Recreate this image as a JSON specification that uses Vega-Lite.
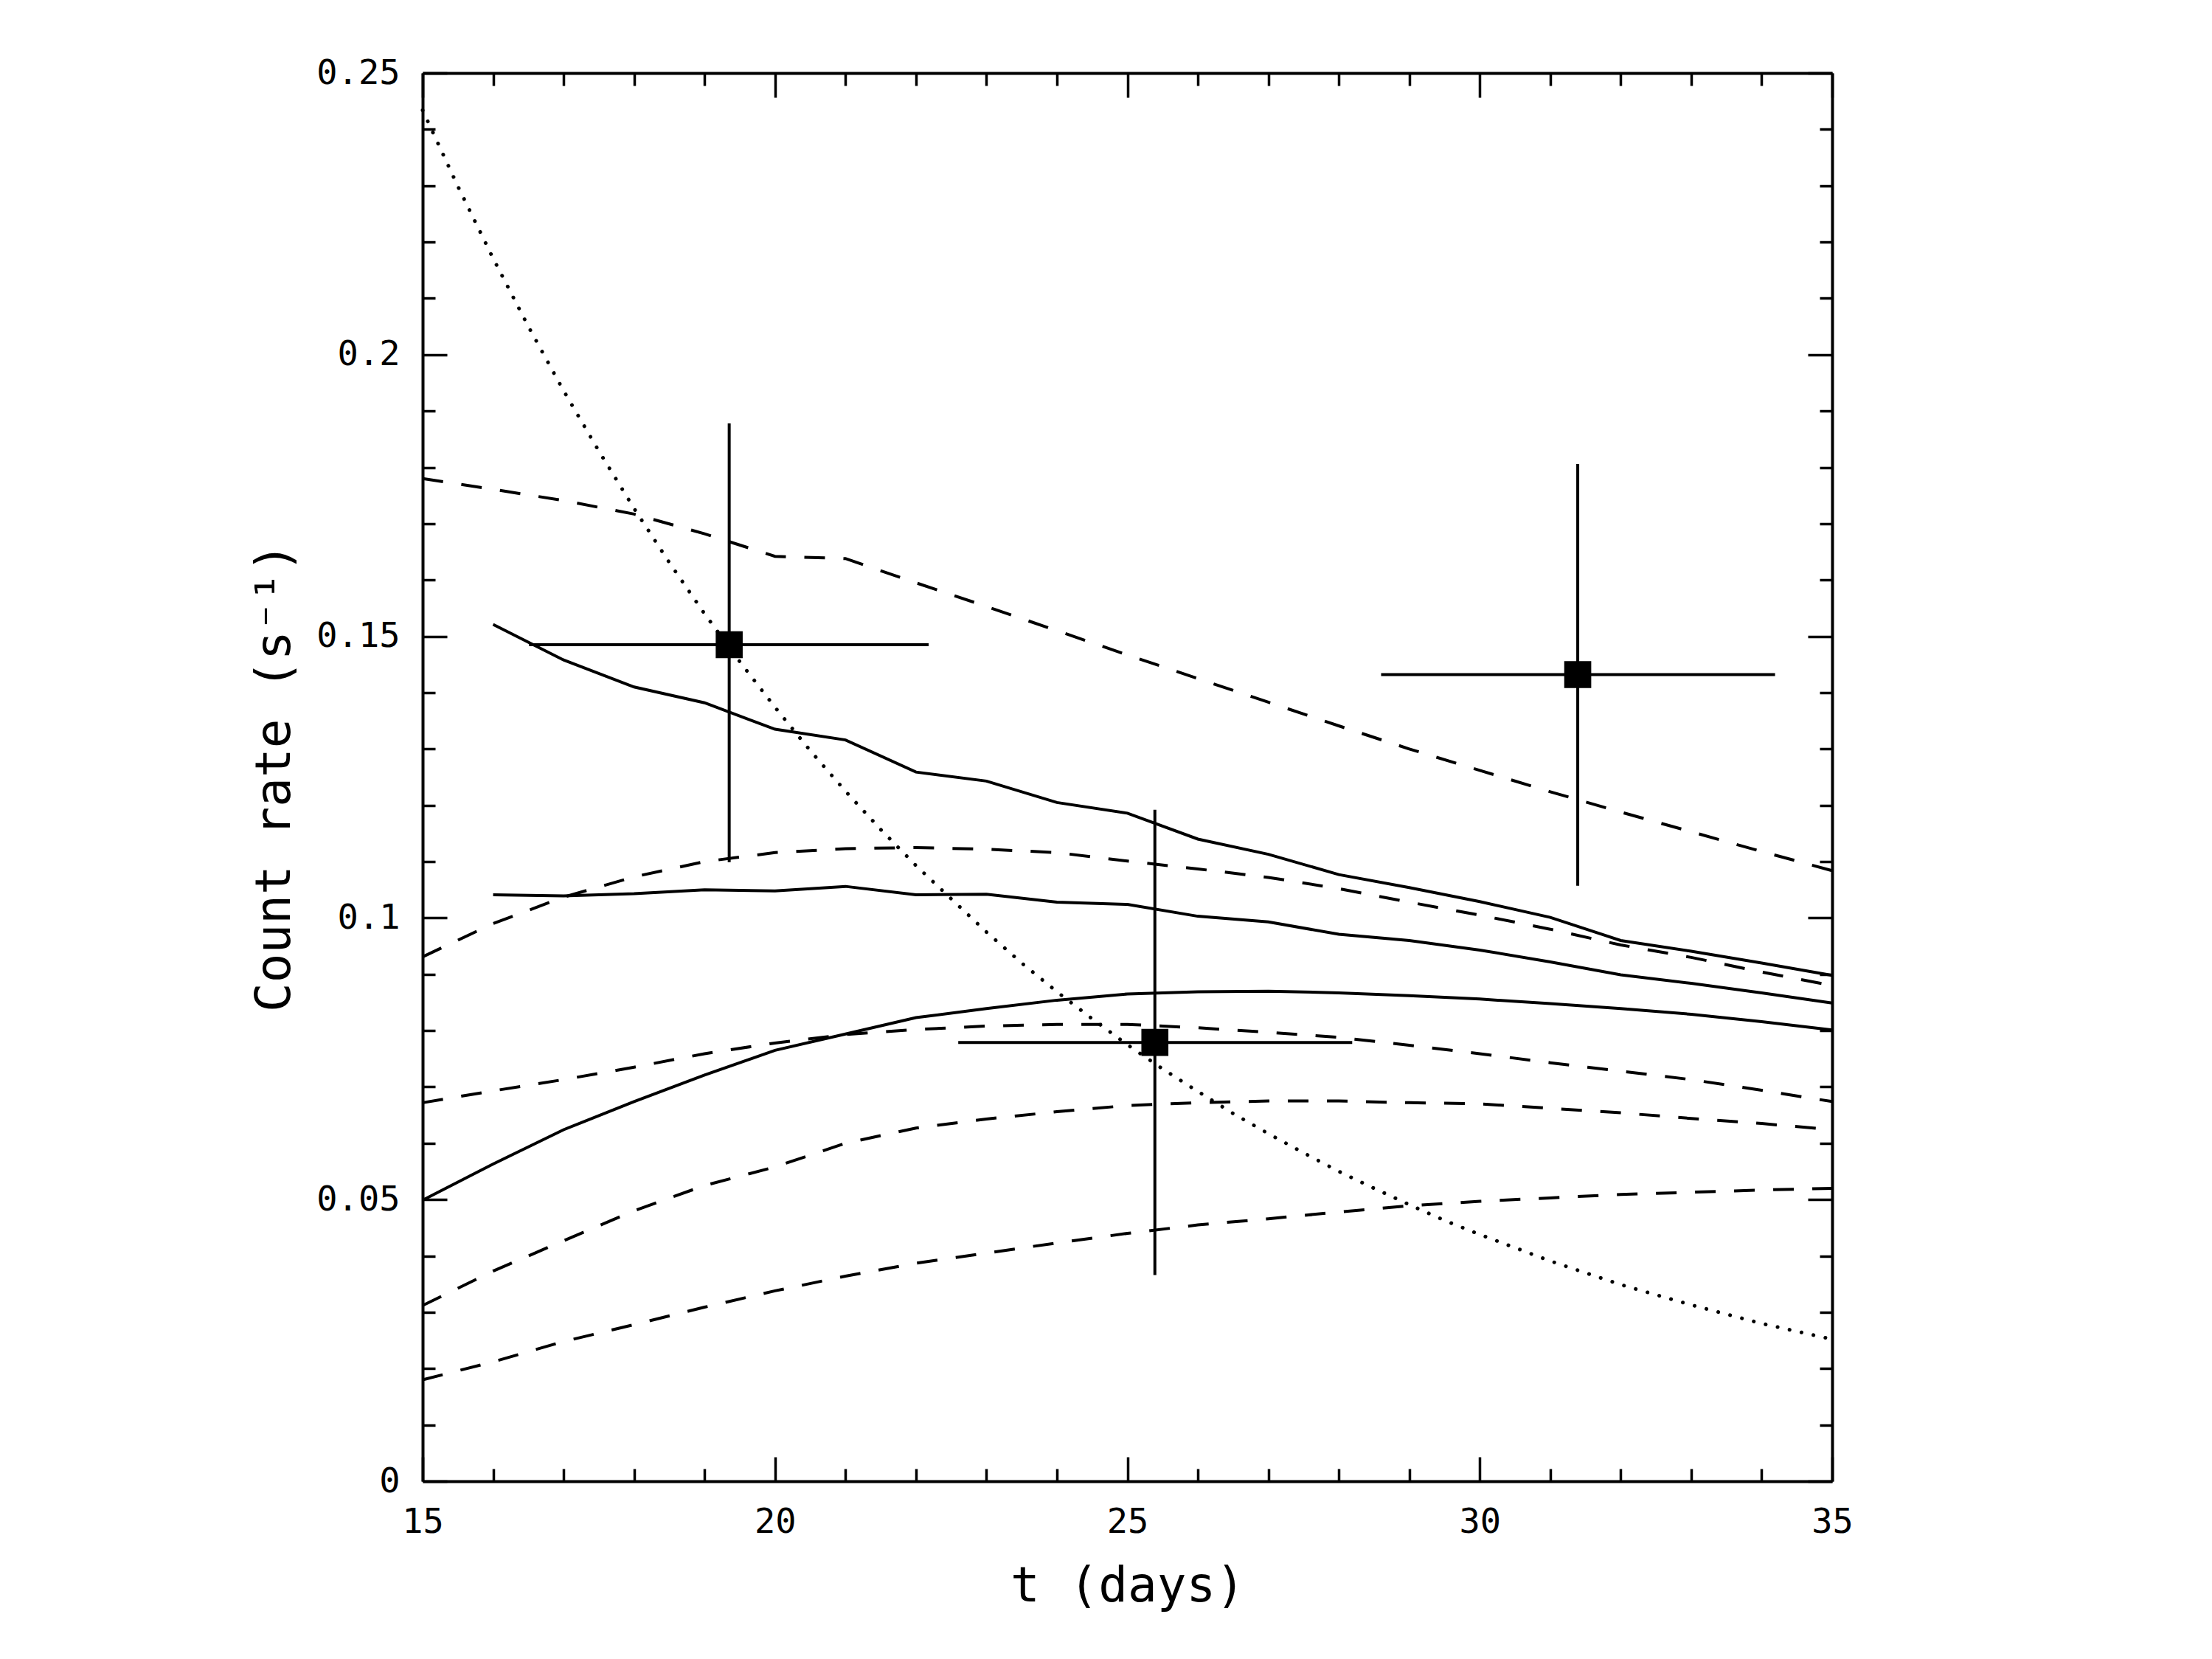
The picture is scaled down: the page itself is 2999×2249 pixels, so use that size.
{
  "$schema": "https://vega.github.io/schema/vega-lite/v6.json",
  "description": "Count rate vs time: model curves (solid, dashed, dotted) with three measured points",
  "width": 1911,
  "height": 1909,
  "autosize": "none",
  "padding": {"left": 573, "top": 99, "right": 515, "bottom": 241},
  "background": "white",
  "config": {
    "view": {"stroke": null},
    "axis": {
      "grid": false,
      "domainColor": "black",
      "domainWidth": 4,
      "tickColor": "black",
      "tickWidth": 3.5,
      "labelFont": "DejaVu Sans Mono",
      "labelFontSize": 47,
      "labelColor": "black",
      "titleFont": "DejaVu Sans Mono",
      "titleFontSize": 66,
      "titleFontWeight": "normal",
      "titleColor": "black",
      "labelFlush": false,
      "labelOverlap": false
    }
  },
  "datasets": {
    "curves": [
      {"model": "d1", "style": "dashed", "t": 15, "rate": 0.1780},
      {"model": "d1", "style": "dashed", "t": 16, "rate": 0.1761},
      {"model": "d1", "style": "dashed", "t": 17, "rate": 0.1741},
      {"model": "d1", "style": "dashed", "t": 18, "rate": 0.1717},
      {"model": "d1", "style": "dashed", "t": 19, "rate": 0.1682},
      {"model": "d1", "style": "dashed", "t": 20, "rate": 0.1642},
      {"model": "d1", "style": "dashed", "t": 21, "rate": 0.1638},
      {"model": "d1", "style": "dashed", "t": 22, "rate": 0.1595},
      {"model": "d1", "style": "dashed", "t": 23, "rate": 0.1553},
      {"model": "d1", "style": "dashed", "t": 24, "rate": 0.1510},
      {"model": "d1", "style": "dashed", "t": 25, "rate": 0.1467},
      {"model": "d1", "style": "dashed", "t": 26, "rate": 0.1425},
      {"model": "d1", "style": "dashed", "t": 27, "rate": 0.1383},
      {"model": "d1", "style": "dashed", "t": 28, "rate": 0.1341},
      {"model": "d1", "style": "dashed", "t": 29, "rate": 0.1300},
      {"model": "d1", "style": "dashed", "t": 30, "rate": 0.1262},
      {"model": "d1", "style": "dashed", "t": 31, "rate": 0.1224},
      {"model": "d1", "style": "dashed", "t": 32, "rate": 0.1188},
      {"model": "d1", "style": "dashed", "t": 33, "rate": 0.1153},
      {"model": "d1", "style": "dashed", "t": 34, "rate": 0.1118},
      {"model": "d1", "style": "dashed", "t": 35, "rate": 0.1084},

      {"model": "d2", "style": "dashed", "t": 15, "rate": 0.0931},
      {"model": "d2", "style": "dashed", "t": 16, "rate": 0.0990},
      {"model": "d2", "style": "dashed", "t": 17, "rate": 0.1037},
      {"model": "d2", "style": "dashed", "t": 18, "rate": 0.1073},
      {"model": "d2", "style": "dashed", "t": 19, "rate": 0.1100},
      {"model": "d2", "style": "dashed", "t": 20, "rate": 0.1116},
      {"model": "d2", "style": "dashed", "t": 21, "rate": 0.1123},
      {"model": "d2", "style": "dashed", "t": 22, "rate": 0.1125},
      {"model": "d2", "style": "dashed", "t": 23, "rate": 0.1122},
      {"model": "d2", "style": "dashed", "t": 24, "rate": 0.1116},
      {"model": "d2", "style": "dashed", "t": 25, "rate": 0.1101},
      {"model": "d2", "style": "dashed", "t": 26, "rate": 0.1087},
      {"model": "d2", "style": "dashed", "t": 27, "rate": 0.1072},
      {"model": "d2", "style": "dashed", "t": 28, "rate": 0.1052},
      {"model": "d2", "style": "dashed", "t": 29, "rate": 0.1028},
      {"model": "d2", "style": "dashed", "t": 30, "rate": 0.1005},
      {"model": "d2", "style": "dashed", "t": 31, "rate": 0.0980},
      {"model": "d2", "style": "dashed", "t": 32, "rate": 0.0952},
      {"model": "d2", "style": "dashed", "t": 33, "rate": 0.0930},
      {"model": "d2", "style": "dashed", "t": 34, "rate": 0.0904},
      {"model": "d2", "style": "dashed", "t": 35, "rate": 0.0880},

      {"model": "d3", "style": "dashed", "t": 15, "rate": 0.0672},
      {"model": "d3", "style": "dashed", "t": 16, "rate": 0.0693},
      {"model": "d3", "style": "dashed", "t": 17, "rate": 0.0713},
      {"model": "d3", "style": "dashed", "t": 18, "rate": 0.0735},
      {"model": "d3", "style": "dashed", "t": 19, "rate": 0.0759},
      {"model": "d3", "style": "dashed", "t": 20, "rate": 0.0778},
      {"model": "d3", "style": "dashed", "t": 21, "rate": 0.0793},
      {"model": "d3", "style": "dashed", "t": 22, "rate": 0.0802},
      {"model": "d3", "style": "dashed", "t": 23, "rate": 0.0808},
      {"model": "d3", "style": "dashed", "t": 24, "rate": 0.0811},
      {"model": "d3", "style": "dashed", "t": 25, "rate": 0.0811},
      {"model": "d3", "style": "dashed", "t": 26, "rate": 0.0805},
      {"model": "d3", "style": "dashed", "t": 27, "rate": 0.0797},
      {"model": "d3", "style": "dashed", "t": 28, "rate": 0.0788},
      {"model": "d3", "style": "dashed", "t": 29, "rate": 0.0774},
      {"model": "d3", "style": "dashed", "t": 30, "rate": 0.0759},
      {"model": "d3", "style": "dashed", "t": 31, "rate": 0.0743},
      {"model": "d3", "style": "dashed", "t": 32, "rate": 0.0728},
      {"model": "d3", "style": "dashed", "t": 33, "rate": 0.0713},
      {"model": "d3", "style": "dashed", "t": 34, "rate": 0.0694},
      {"model": "d3", "style": "dashed", "t": 35, "rate": 0.0674},

      {"model": "d4", "style": "dashed", "t": 15, "rate": 0.0312},
      {"model": "d4", "style": "dashed", "t": 16, "rate": 0.0373},
      {"model": "d4", "style": "dashed", "t": 17, "rate": 0.0427},
      {"model": "d4", "style": "dashed", "t": 18, "rate": 0.0480},
      {"model": "d4", "style": "dashed", "t": 19, "rate": 0.0525},
      {"model": "d4", "style": "dashed", "t": 20, "rate": 0.0558},
      {"model": "d4", "style": "dashed", "t": 21, "rate": 0.0600},
      {"model": "d4", "style": "dashed", "t": 22, "rate": 0.0627},
      {"model": "d4", "style": "dashed", "t": 23, "rate": 0.0643},
      {"model": "d4", "style": "dashed", "t": 24, "rate": 0.0656},
      {"model": "d4", "style": "dashed", "t": 25, "rate": 0.0667},
      {"model": "d4", "style": "dashed", "t": 26, "rate": 0.0672},
      {"model": "d4", "style": "dashed", "t": 27, "rate": 0.0675},
      {"model": "d4", "style": "dashed", "t": 28, "rate": 0.0675},
      {"model": "d4", "style": "dashed", "t": 29, "rate": 0.0672},
      {"model": "d4", "style": "dashed", "t": 30, "rate": 0.0670},
      {"model": "d4", "style": "dashed", "t": 31, "rate": 0.0662},
      {"model": "d4", "style": "dashed", "t": 32, "rate": 0.0654},
      {"model": "d4", "style": "dashed", "t": 33, "rate": 0.0644},
      {"model": "d4", "style": "dashed", "t": 34, "rate": 0.0635},
      {"model": "d4", "style": "dashed", "t": 35, "rate": 0.0624},

      {"model": "d5", "style": "dashed", "t": 15, "rate": 0.0180},
      {"model": "d5", "style": "dashed", "t": 16, "rate": 0.0212},
      {"model": "d5", "style": "dashed", "t": 17, "rate": 0.0248},
      {"model": "d5", "style": "dashed", "t": 18, "rate": 0.0278},
      {"model": "d5", "style": "dashed", "t": 19, "rate": 0.0309},
      {"model": "d5", "style": "dashed", "t": 20, "rate": 0.0338},
      {"model": "d5", "style": "dashed", "t": 21, "rate": 0.0364},
      {"model": "d5", "style": "dashed", "t": 22, "rate": 0.0387},
      {"model": "d5", "style": "dashed", "t": 23, "rate": 0.0405},
      {"model": "d5", "style": "dashed", "t": 24, "rate": 0.0423},
      {"model": "d5", "style": "dashed", "t": 25, "rate": 0.0440},
      {"model": "d5", "style": "dashed", "t": 26, "rate": 0.0455},
      {"model": "d5", "style": "dashed", "t": 27, "rate": 0.0466},
      {"model": "d5", "style": "dashed", "t": 28, "rate": 0.0478},
      {"model": "d5", "style": "dashed", "t": 29, "rate": 0.0489},
      {"model": "d5", "style": "dashed", "t": 30, "rate": 0.0497},
      {"model": "d5", "style": "dashed", "t": 31, "rate": 0.0503},
      {"model": "d5", "style": "dashed", "t": 32, "rate": 0.0509},
      {"model": "d5", "style": "dashed", "t": 33, "rate": 0.0513},
      {"model": "d5", "style": "dashed", "t": 34, "rate": 0.0517},
      {"model": "d5", "style": "dashed", "t": 35, "rate": 0.0520},

      {"model": "s1", "style": "solid", "t": 16, "rate": 0.1521},
      {"model": "s1", "style": "solid", "t": 17, "rate": 0.1458},
      {"model": "s1", "style": "solid", "t": 18, "rate": 0.1410},
      {"model": "s1", "style": "solid", "t": 19, "rate": 0.1382},
      {"model": "s1", "style": "solid", "t": 20, "rate": 0.1335},
      {"model": "s1", "style": "solid", "t": 21, "rate": 0.1316},
      {"model": "s1", "style": "solid", "t": 22, "rate": 0.1259},
      {"model": "s1", "style": "solid", "t": 23, "rate": 0.1243},
      {"model": "s1", "style": "solid", "t": 24, "rate": 0.1205},
      {"model": "s1", "style": "solid", "t": 25, "rate": 0.1186},
      {"model": "s1", "style": "solid", "t": 26, "rate": 0.1140},
      {"model": "s1", "style": "solid", "t": 27, "rate": 0.1113},
      {"model": "s1", "style": "solid", "t": 28, "rate": 0.1077},
      {"model": "s1", "style": "solid", "t": 29, "rate": 0.1054},
      {"model": "s1", "style": "solid", "t": 30, "rate": 0.1029},
      {"model": "s1", "style": "solid", "t": 31, "rate": 0.1001},
      {"model": "s1", "style": "solid", "t": 32, "rate": 0.0960},
      {"model": "s1", "style": "solid", "t": 33, "rate": 0.0941},
      {"model": "s1", "style": "solid", "t": 34, "rate": 0.0920},
      {"model": "s1", "style": "solid", "t": 35, "rate": 0.0898},

      {"model": "s2", "style": "solid", "t": 16, "rate": 0.1041},
      {"model": "s2", "style": "solid", "t": 17, "rate": 0.1039},
      {"model": "s2", "style": "solid", "t": 18, "rate": 0.1043},
      {"model": "s2", "style": "solid", "t": 19, "rate": 0.1050},
      {"model": "s2", "style": "solid", "t": 20, "rate": 0.1048},
      {"model": "s2", "style": "solid", "t": 21, "rate": 0.1056},
      {"model": "s2", "style": "solid", "t": 22, "rate": 0.1041},
      {"model": "s2", "style": "solid", "t": 23, "rate": 0.1042},
      {"model": "s2", "style": "solid", "t": 24, "rate": 0.1028},
      {"model": "s2", "style": "solid", "t": 25, "rate": 0.1024},
      {"model": "s2", "style": "solid", "t": 26, "rate": 0.1003},
      {"model": "s2", "style": "solid", "t": 27, "rate": 0.0993},
      {"model": "s2", "style": "solid", "t": 28, "rate": 0.0971},
      {"model": "s2", "style": "solid", "t": 29, "rate": 0.0960},
      {"model": "s2", "style": "solid", "t": 30, "rate": 0.0943},
      {"model": "s2", "style": "solid", "t": 31, "rate": 0.0922},
      {"model": "s2", "style": "solid", "t": 32, "rate": 0.0899},
      {"model": "s2", "style": "solid", "t": 33, "rate": 0.0884},
      {"model": "s2", "style": "solid", "t": 34, "rate": 0.0867},
      {"model": "s2", "style": "solid", "t": 35, "rate": 0.0849},

      {"model": "s3", "style": "solid", "t": 15, "rate": 0.0499},
      {"model": "s3", "style": "solid", "t": 16, "rate": 0.0563},
      {"model": "s3", "style": "solid", "t": 17, "rate": 0.0624},
      {"model": "s3", "style": "solid", "t": 18, "rate": 0.0674},
      {"model": "s3", "style": "solid", "t": 19, "rate": 0.0721},
      {"model": "s3", "style": "solid", "t": 20, "rate": 0.0765},
      {"model": "s3", "style": "solid", "t": 21, "rate": 0.0794},
      {"model": "s3", "style": "solid", "t": 22, "rate": 0.0823},
      {"model": "s3", "style": "solid", "t": 23, "rate": 0.0839},
      {"model": "s3", "style": "solid", "t": 24, "rate": 0.0854},
      {"model": "s3", "style": "solid", "t": 25, "rate": 0.0865},
      {"model": "s3", "style": "solid", "t": 26, "rate": 0.0869},
      {"model": "s3", "style": "solid", "t": 27, "rate": 0.0870},
      {"model": "s3", "style": "solid", "t": 28, "rate": 0.0867},
      {"model": "s3", "style": "solid", "t": 29, "rate": 0.0862},
      {"model": "s3", "style": "solid", "t": 30, "rate": 0.0856},
      {"model": "s3", "style": "solid", "t": 31, "rate": 0.0848},
      {"model": "s3", "style": "solid", "t": 32, "rate": 0.0839},
      {"model": "s3", "style": "solid", "t": 33, "rate": 0.0829},
      {"model": "s3", "style": "solid", "t": 34, "rate": 0.0816},
      {"model": "s3", "style": "solid", "t": 35, "rate": 0.0801},

      {"model": "decay", "style": "dotted", "t": 15, "rate": 0.2434},
      {"model": "decay", "style": "dotted", "t": 15.5, "rate": 0.2299},
      {"model": "decay", "style": "dotted", "t": 16, "rate": 0.2171},
      {"model": "decay", "style": "dotted", "t": 16.5, "rate": 0.2050},
      {"model": "decay", "style": "dotted", "t": 17, "rate": 0.1936},
      {"model": "decay", "style": "dotted", "t": 17.5, "rate": 0.1829},
      {"model": "decay", "style": "dotted", "t": 18, "rate": 0.1727},
      {"model": "decay", "style": "dotted", "t": 18.5, "rate": 0.1631},
      {"model": "decay", "style": "dotted", "t": 19, "rate": 0.1540},
      {"model": "decay", "style": "dotted", "t": 19.5, "rate": 0.1455},
      {"model": "decay", "style": "dotted", "t": 20, "rate": 0.1374},
      {"model": "decay", "style": "dotted", "t": 20.5, "rate": 0.1297},
      {"model": "decay", "style": "dotted", "t": 21, "rate": 0.1225},
      {"model": "decay", "style": "dotted", "t": 21.5, "rate": 0.1157},
      {"model": "decay", "style": "dotted", "t": 22, "rate": 0.1093},
      {"model": "decay", "style": "dotted", "t": 22.5, "rate": 0.1034},
      {"model": "decay", "style": "dotted", "t": 23, "rate": 0.0975},
      {"model": "decay", "style": "dotted", "t": 23.5, "rate": 0.0920},
      {"model": "decay", "style": "dotted", "t": 24, "rate": 0.0869},
      {"model": "decay", "style": "dotted", "t": 24.5, "rate": 0.0821},
      {"model": "decay", "style": "dotted", "t": 25, "rate": 0.0775},
      {"model": "decay", "style": "dotted", "t": 25.5, "rate": 0.0732},
      {"model": "decay", "style": "dotted", "t": 26, "rate": 0.0692},
      {"model": "decay", "style": "dotted", "t": 26.5, "rate": 0.0653},
      {"model": "decay", "style": "dotted", "t": 27, "rate": 0.0617},
      {"model": "decay", "style": "dotted", "t": 27.5, "rate": 0.0583},
      {"model": "decay", "style": "dotted", "t": 28, "rate": 0.0550},
      {"model": "decay", "style": "dotted", "t": 28.5, "rate": 0.0520},
      {"model": "decay", "style": "dotted", "t": 29, "rate": 0.0491},
      {"model": "decay", "style": "dotted", "t": 29.5, "rate": 0.0463},
      {"model": "decay", "style": "dotted", "t": 30, "rate": 0.0438},
      {"model": "decay", "style": "dotted", "t": 31, "rate": 0.0391},
      {"model": "decay", "style": "dotted", "t": 32, "rate": 0.0349},
      {"model": "decay", "style": "dotted", "t": 33, "rate": 0.0313},
      {"model": "decay", "style": "dotted", "t": 34, "rate": 0.0280},
      {"model": "decay", "style": "dotted", "t": 35, "rate": 0.0252}
    ],
    "points": [
      {"t": 19.35, "t_lo": 16.51, "t_hi": 22.18, "rate": 0.1485, "rate_lo": 0.1099, "rate_hi": 0.1878},
      {"t": 25.39, "t_lo": 22.60, "t_hi": 28.19, "rate": 0.0779, "rate_lo": 0.0366, "rate_hi": 0.1192},
      {"t": 31.39, "t_lo": 28.60, "t_hi": 34.19, "rate": 0.1432, "rate_lo": 0.1057, "rate_hi": 0.1806}
    ]
  },
  "resolve": {"axis": {"x": "independent", "y": "independent"}},
  "layer": [
    {
      "description": "dashed models, carries the labelled bottom and left axes",
      "data": {"name": "curves"},
      "transform": [{"filter": "datum.style === 'dashed'"}],
      "mark": {"type": "line", "color": "black", "strokeWidth": 4, "strokeDash": [28, 25]},
      "encoding": {
        "x": {
          "field": "t", "type": "quantitative",
          "scale": {"domain": [15, 35], "nice": false, "zero": false},
          "axis": {"orient": "bottom", "values": [15, 20, 25, 30, 35], "tickSize": -33, "labelPadding": 65, "format": "~g", "title": "t (days)", "titlePadding": 32}
        },
        "y": {
          "field": "rate", "type": "quantitative",
          "scale": {"domain": [0, 0.25], "nice": false, "zero": false},
          "axis": {"orient": "left", "values": [0, 0.05, 0.1, 0.15, 0.2, 0.25], "tickSize": -33, "labelPadding": 64, "format": "~g", "title": "Count rate (s⁻¹)", "titlePadding": 22}
        },
        "detail": {"field": "model"}
      }
    },
    {
      "description": "solid models, minor ticks bottom and left",
      "data": {"name": "curves"},
      "transform": [{"filter": "datum.style === 'solid'"}],
      "mark": {"type": "line", "color": "black", "strokeWidth": 4},
      "encoding": {
        "x": {
          "field": "t", "type": "quantitative",
          "scale": {"domain": [15, 35], "nice": false, "zero": false},
          "axis": {"orient": "bottom", "values": [16, 17, 18, 19, 21, 22, 23, 24, 26, 27, 28, 29, 31, 32, 33, 34], "tickSize": -17, "labels": false, "domain": false, "title": null}
        },
        "y": {
          "field": "rate", "type": "quantitative",
          "scale": {"domain": [0, 0.25], "nice": false, "zero": false},
          "axis": {"orient": "left", "values": [0.01, 0.02, 0.03, 0.04, 0.06, 0.07, 0.08, 0.09, 0.11, 0.12, 0.13, 0.14, 0.16, 0.17, 0.18, 0.19, 0.21, 0.22, 0.23, 0.24], "tickSize": -17, "labels": false, "domain": false, "title": null}
        },
        "detail": {"field": "model"}
      }
    },
    {
      "description": "dotted decay curve, major ticks top and right",
      "data": {"name": "curves"},
      "transform": [{"filter": "datum.style === 'dotted'"}],
      "mark": {"type": "line", "color": "black", "strokeWidth": 5, "strokeDash": [0.1, 16.5], "strokeCap": "round"},
      "encoding": {
        "x": {
          "field": "t", "type": "quantitative",
          "scale": {"domain": [15, 35], "nice": false, "zero": false},
          "axis": {"orient": "top", "values": [15, 20, 25, 30, 35], "tickSize": -33, "labels": false, "title": null}
        },
        "y": {
          "field": "rate", "type": "quantitative",
          "scale": {"domain": [0, 0.25], "nice": false, "zero": false},
          "axis": {"orient": "right", "values": [0, 0.05, 0.1, 0.15, 0.2, 0.25], "tickSize": -33, "labels": false, "title": null}
        }
      }
    },
    {
      "description": "horizontal error bars, minor ticks top and right",
      "data": {"name": "points"},
      "mark": {"type": "rule", "color": "black", "strokeWidth": 4},
      "encoding": {
        "x": {
          "field": "t_lo", "type": "quantitative",
          "scale": {"domain": [15, 35], "nice": false, "zero": false},
          "axis": {"orient": "top", "values": [16, 17, 18, 19, 21, 22, 23, 24, 26, 27, 28, 29, 31, 32, 33, 34], "tickSize": -17, "labels": false, "domain": false, "title": null}
        },
        "x2": {"field": "t_hi"},
        "y": {
          "field": "rate", "type": "quantitative",
          "scale": {"domain": [0, 0.25], "nice": false, "zero": false},
          "axis": {"orient": "right", "values": [0.01, 0.02, 0.03, 0.04, 0.06, 0.07, 0.08, 0.09, 0.11, 0.12, 0.13, 0.14, 0.16, 0.17, 0.18, 0.19, 0.21, 0.22, 0.23, 0.24], "tickSize": -17, "labels": false, "domain": false, "title": null}
        }
      }
    },
    {
      "description": "vertical error bars",
      "data": {"name": "points"},
      "mark": {"type": "rule", "color": "black", "strokeWidth": 4},
      "encoding": {
        "x": {"field": "t", "type": "quantitative", "axis": null},
        "y": {"field": "rate_lo", "type": "quantitative", "axis": null},
        "y2": {"field": "rate_hi"}
      }
    },
    {
      "description": "measured points",
      "data": {"name": "points"},
      "mark": {"type": "square", "size": 1340, "color": "black", "opacity": 1},
      "encoding": {
        "x": {"field": "t", "type": "quantitative", "axis": null},
        "y": {"field": "rate", "type": "quantitative", "axis": null}
      }
    }
  ]
}
